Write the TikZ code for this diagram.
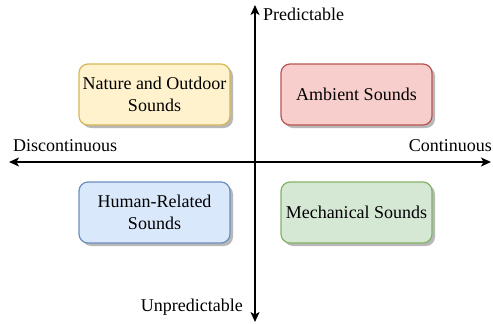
\documentclass[tikz,border=0pt]{standalone}
\usepackage{fontspec}
\setmainfont{Liberation Serif}
\usetikzlibrary{arrows.meta,shadows}
\definecolor{yfill}{HTML}{FFF2CC}\definecolor{ydraw}{HTML}{D6B656}
\definecolor{rfill}{HTML}{F8CECC}\definecolor{rdraw}{HTML}{B85450}
\definecolor{bfill}{HTML}{DAE8FC}\definecolor{bdraw}{HTML}{6C8EBF}
\definecolor{gfill}{HTML}{D5E8D4}\definecolor{gdraw}{HTML}{82B366}
\tikzset{
  quad/.style={draw, line width=1.2pt, rounded corners=9pt, minimum width=151pt, minimum height=61pt,
    align=center, inner sep=2pt,
    drop shadow={shadow xshift=3pt, shadow yshift=-3pt, fill=black!28, opacity=1}},
  axis/.style={line width=1.3pt, {Stealth[length=10pt,width=9pt,inset=2.5pt]}-{Stealth[length=10pt,width=9pt,inset=2.5pt]}},
  lbl/.style={inner sep=0pt}
}
\begin{document}
\begin{tikzpicture}[x=1pt,y=-1pt,font=\fontsize{18}{22.5}\selectfont]
\useasboundingbox (0,0) rectangle (493,324);
\coordinate (top) at (255,5);
\coordinate (bot) at (255,322);
\coordinate (lft) at (9,162);
\coordinate (rgt) at (491,162);
\draw[axis] (bot) -- (top);
\draw[axis] (lft) -- (rgt);
\node[quad, fill=yfill, draw=ydraw] (nat) at (154.5,94.5) {Nature and Outdoor\\Sounds};
\node[quad, fill=rfill, draw=rdraw] (amb) at (356.5,94.5) {Ambient Sounds};
\node[quad, fill=bfill, draw=bdraw] (hum) at (154.5,212.5) {Human-Related\\Sounds};
\node[quad, fill=gfill, draw=gdraw] (mec) at (356.5,212.5) {Mechanical Sounds};
\node[lbl, anchor=west] (pred) at (263,14) {Predictable};
\node[lbl, anchor=west] (dis) at (13,146) {Discontinuous};
\node[lbl, anchor=east] (con) at (492,146) {Continuous};
\node[lbl, anchor=east] (unp) at (243,307) {Unpredictable};
\end{tikzpicture}
\end{document}
